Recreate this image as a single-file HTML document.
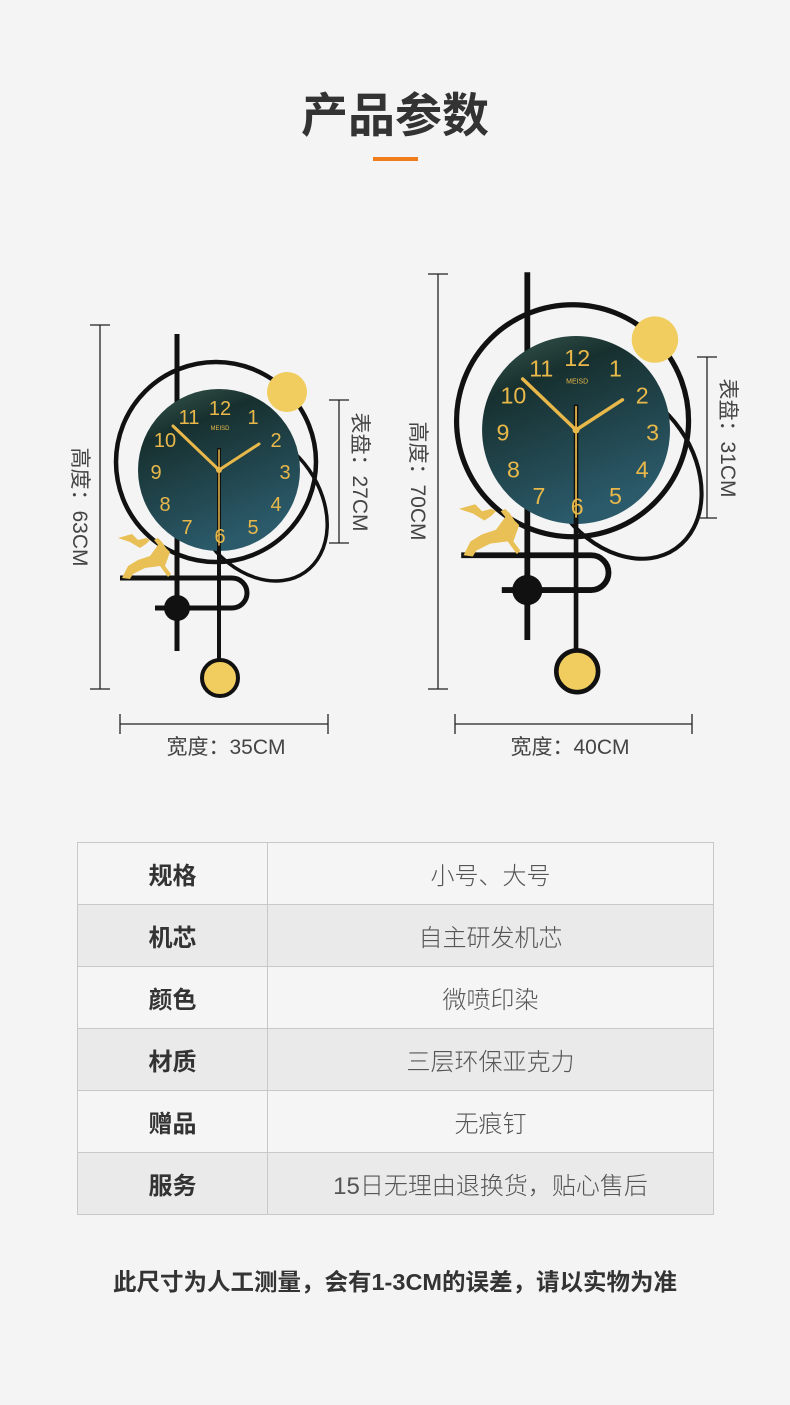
<!DOCTYPE html>
<html><head><meta charset="utf-8"><style>
*{margin:0;padding:0;box-sizing:border-box}
body{width:790px;height:1405px;background:#f4f4f4;position:relative;overflow:hidden;font-family:"Liberation Sans","Noto Sans CJK SC",sans-serif;color:#333}
.t{position:absolute;left:0;width:790px;text-align:center;top:83px;font-size:47px;font-weight:bold;line-height:66px;color:#333}
.bar{position:absolute;left:373px;top:157px;width:45px;height:4px;background:#f07d1c}
table{position:absolute;left:77px;top:842px;width:637px;border-collapse:collapse}
td{border:1px solid #c8c8c8;height:62px;text-align:center;font-size:24px}
td.l{width:190px;font-weight:bold;color:#333}
td.v{color:#555;font-weight:300}
tr:nth-child(odd){background:#f5f5f5}
tr:nth-child(even){background:#eaeaea}
.f{position:absolute;left:0;width:790px;text-align:center;top:1263px;font-size:23.5px;font-weight:bold;color:#333}
</style></head><body>
<div class="t">产品参数</div>
<div class="bar"></div>
<svg width="790" height="800" style="position:absolute;left:0;top:0" font-family="Liberation Sans, Noto Sans CJK SC, sans-serif">
<defs>
<linearGradient id="dg" x1="0" y1="0" x2="0.4" y2="1"><stop offset="0" stop-color="#3b5a4e"/><stop offset="0.3" stop-color="#17302f"/><stop offset="1" stop-color="#2b5a6a"/></linearGradient>
<g id="clk">
<line x1="177" y1="334" x2="177" y2="651" stroke="#111" stroke-width="5"/>
<circle cx="216" cy="462" r="100" fill="none" stroke="#111" stroke-width="4.5"/>
<ellipse cx="258" cy="505" rx="62" ry="82" transform="rotate(-35 258 505)" fill="none" stroke="#111" stroke-width="3.5"/>
<circle cx="219" cy="470" r="81" fill="url(#dg)"/>
<circle cx="287" cy="392" r="20" fill="#f0cd5e"/>
<path d="M120 578 H232 A15 15 0 0 1 232 608 H155" fill="none" stroke="#111" stroke-width="5"/>
<circle cx="177" cy="608" r="13" fill="#111"/>
<line x1="219" y1="448" x2="219" y2="660" stroke="#111" stroke-width="4"/>
<circle cx="220" cy="678" r="18" fill="#f0cd5e" stroke="#111" stroke-width="4"/>
<path d="M122 578 L128 566 L138 560 L150 556 L158 545 L154 540 L158 538 L162 542 L166 548 L170 552 L165 566 L171 574 L168 577 L160 566 L145 568 L133 574 L130 579 Z M118 538 L130 542 L140 548 L146 544 L150 540 L146 538 L138 540 L132 534 Z" fill="#e8c055"/>
<g fill="#e8b84a" font-size="20" text-anchor="middle">
<text x="220" y="415">12</text><text x="253" y="424">1</text><text x="276" y="447">2</text><text x="285" y="479">3</text><text x="276" y="511">4</text><text x="253" y="534">5</text><text x="220" y="543">6</text><text x="187" y="534">7</text><text x="165" y="511">8</text><text x="156" y="479">9</text><text x="165" y="447">10</text><text x="189" y="424">11</text>
</g>
<text x="220" y="430" fill="#e8b84a" font-size="6" text-anchor="middle">MEISD</text>
<g stroke="#e8b84a" stroke-linecap="round"><line x1="219" y1="470" x2="173" y2="426" stroke-width="3"/><line x1="219" y1="470" x2="259" y2="444" stroke-width="3"/><line x1="219" y1="450" x2="219" y2="545" stroke-width="1.5"/></g>
<circle cx="219" cy="470" r="3" fill="#e8b84a"/>
</g>
</defs>
<use href="#clk"/>
<use href="#clk" transform="translate(322 -115.2) scale(1.16)"/>
<g stroke="#222" stroke-width="1.3">
<line x1="100" y1="325" x2="100" y2="689"/><line x1="90" y1="325" x2="110" y2="325"/><line x1="90" y1="689" x2="110" y2="689"/>
<line x1="339" y1="400" x2="339" y2="543"/><line x1="329" y1="400" x2="349" y2="400"/><line x1="329" y1="543" x2="349" y2="543"/>
<line x1="120" y1="724" x2="328" y2="724"/><line x1="120" y1="714" x2="120" y2="734"/><line x1="328" y1="714" x2="328" y2="734"/>
<line x1="438" y1="274" x2="438" y2="689"/><line x1="428" y1="274" x2="448" y2="274"/><line x1="428" y1="689" x2="448" y2="689"/>
<line x1="707" y1="357" x2="707" y2="518"/><line x1="697" y1="357" x2="717" y2="357"/><line x1="697" y1="518" x2="717" y2="518"/>
<line x1="455" y1="724" x2="692" y2="724"/><line x1="455" y1="714" x2="455" y2="734"/><line x1="692" y1="714" x2="692" y2="734"/>
</g>
<g fill="#444" font-size="21" text-anchor="middle">
<text transform="translate(73 507) rotate(90)">高度：63CM</text>
<text transform="translate(353 472) rotate(90)">表盘：27CM</text>
<text transform="translate(411 481) rotate(90)">高度：70CM</text>
<text transform="translate(721 438) rotate(90)">表盘：31CM</text>
<text x="226" y="754">宽度：35CM</text>
<text x="570" y="754">宽度：40CM</text>
</g>
</svg>
<table>
<tr><td class="l">规格</td><td class="v">小号、大号</td></tr>
<tr><td class="l">机芯</td><td class="v">自主研发机芯</td></tr>
<tr><td class="l">颜色</td><td class="v">微喷印染</td></tr>
<tr><td class="l">材质</td><td class="v">三层环保亚克力</td></tr>
<tr><td class="l">赠品</td><td class="v">无痕钉</td></tr>
<tr><td class="l">服务</td><td class="v">15日无理由退换货，贴心售后</td></tr>
</table>
<div class="f">此尺寸为人工测量，会有1-3CM的误差，请以实物为准</div>
</body></html>
